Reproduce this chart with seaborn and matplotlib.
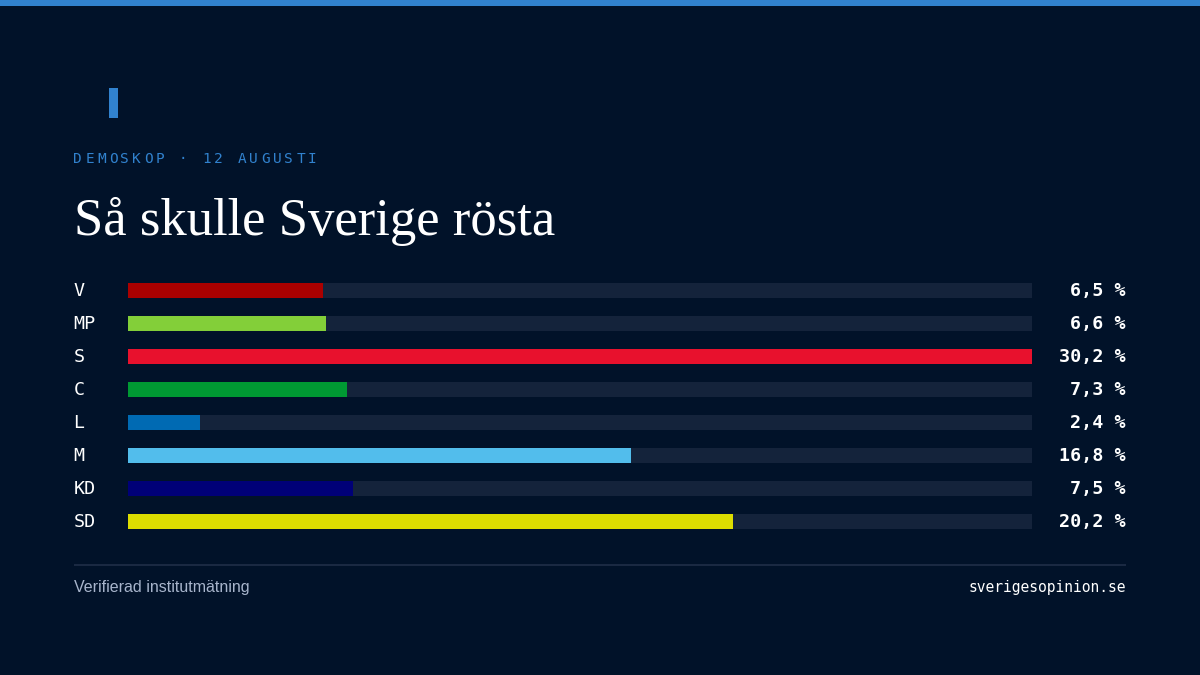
"""Väljarbarometer: mörkt kort med horisontella staplar."""

import matplotlib.pyplot as plt
import pandas as pd
import seaborn as sns
from matplotlib.patches import Rectangle

partier = ["V", "MP", "S", "C", "L", "M", "KD", "SD"]
andelar = [6.5, 6.6, 30.2, 7.3, 2.4, 16.8, 7.5, 20.2]
etiketter = ["6,5 %", "6,6 %", "30,2 %", "7,3 %", "2,4 %", "16,8 %", "7,5 %", "20,2 %"]
farger = ["#AA0000", "#83CF39", "#E8112D", "#009933", "#006AB3", "#52BDEC", "#000077", "#DDDD00"]
skala_max = [30.2] * 8

RUBRIK = "Så skulle Sverige rösta"
KICKER = "DEMOSKOP · 12 AUGUSTI"
KALLA = "Verifierad institutmätning"
SAJT = "sverigesopinion.se"

BG = "#011229"
SPAR = "#14233B"
BLA = "#3182CE"
W, H = 1200, 675
MONO = "DejaVu Sans Mono"

sns.set_theme(style="white")

df = pd.DataFrame({"parti": partier, "andel": andelar, "max": skala_max})

fig = plt.figure(figsize=(W / 100, H / 100), dpi=100, facecolor=BG)
# axeln täcker raderna, 33 px per rad
ax = fig.add_axes([128 / W, 1 - 538.3 / H, 904 / W, 264 / H], facecolor="none")

sns.barplot(data=df, y="parti", x="max", color=SPAR, saturation=1, width=15 / 33, linewidth=0, ax=ax)
sns.barplot(
    data=df,
    y="parti",
    x="andel",
    hue="parti",
    palette=dict(zip(partier, farger)),
    saturation=1,
    width=15 / 33,
    dodge=False,
    legend=False,
    linewidth=0,
    ax=ax,
)
ax.set_xlim(0, 30.2)
ax.set_ylim(7.5, -0.5)
ax.set_xlabel("")
ax.set_ylabel("")
ax.set_xticks([])
sns.despine(ax=ax, left=True, bottom=True)
# pad i punkter: 54 px = 38,9 pt
ax.tick_params(axis="y", length=0, pad=39.2)
for lab in ax.get_yticklabels():
    lab.set_ha("left")
    lab.set_va("center")
    lab.set_color("#FFFFFF")
    lab.set_fontfamily(MONO)
    lab.set_fontsize(13.2)

for i, txt in enumerate(etiketter):
    ax.text(
        (1126 - 128) / 904,
        i,
        txt,
        transform=ax.get_yaxis_transform(),
        ha="right",
        va="center",
        color="#FFFFFF",
        family=MONO,
        fontsize=13.2,
        fontweight="bold",
    )

# toppremsa, liten markör och avdelare
fig.add_artist(Rectangle((0, 1 - 6 / H), 1, 6 / H, transform=fig.transFigure, color=BLA, lw=0))
fig.add_artist(Rectangle((109 / W, 1 - 118 / H), 9 / W, 30 / H, transform=fig.transFigure, color=BLA, lw=0))
fig.add_artist(Rectangle((74 / W, 1 - 566 / H), 1052 / W, 2 / H, transform=fig.transFigure, color="#1A2942", lw=0))

# kickern är spärrad, så tecknen sätts ett och ett
for i, ch in enumerate(KICKER):
    fig.text((73.5 + i * 11.72) / W, 1 - 163 / H, ch, color=BLA, family=MONO, fontsize=10.4, va="baseline")

fig.text(74 / W, 1 - 235 / H, RUBRIK, color="#FFFFFF", family="Liberation Serif", fontsize=38, va="baseline")
fig.text(74 / W, 1 - 592 / H, KALLA, color="#A8B5CC", family="Liberation Sans", fontsize=11.5, va="baseline")
fig.text(1126 / W, 1 - 592 / H, SAJT, color="#FFFFFF", family=MONO, fontsize=10.5, ha="right", va="baseline")

fig.savefig("out.png", dpi=100, facecolor=BG)
